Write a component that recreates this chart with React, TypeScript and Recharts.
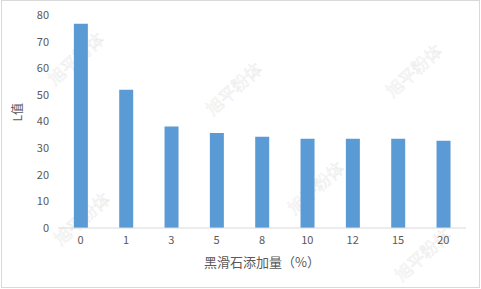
import { Bar, BarChart, XAxis, YAxis } from "recharts";

// talc loading (%) and measured L value
const loadings = ["0", "1", "3", "5", "8", "10", "12", "15", "20"];
const lValues = [76.7, 51.9, 38.1, 35.7, 34.3, 33.5, 33.5, 33.5, 32.8];
const yTicks = [0, 10, 20, 30, 40, 50, 60, 70, 80];

const watermarkText = "旭平粉体";
const watermarkSpots = [
  [75, 58],
  [81, 218],
  [233, 88],
  [413, 70],
  [315, 187],
  [422, 254],
];

const data = loadings.map((c, i) => ({ loading: c, value: lValues[i] }));

const font = "'Noto Sans CJK SC', 'Noto Sans', sans-serif";
const textColor = "#595959";

export default function App() {
  return (
    <div
      style={{
        position: "absolute",
        left: 0,
        top: 0,
        width: 481,
        height: 289,
        background: "#fff",
        fontFamily: font,
      }}
    >
      <svg
        width={481}
        height={289}
        style={{ position: "absolute", left: 0, top: 0 }}
      >
        {watermarkSpots.map(([x, y], i) => (
          <text
            key={i}
            x={x}
            y={y}
            textAnchor="middle"
            dominantBaseline="central"
            transform={`rotate(-42 ${x} ${y})`}
            fontSize={17}
            fontFamily={font}
            fill="#fdfdfd"
            stroke="#e6e6e6"
            strokeWidth={0.4}
          >
            {watermarkText}
          </text>
        ))}
      </svg>
      <div style={{ position: "absolute", left: 0, top: 0 }}>
        <BarChart
          width={481}
          height={289}
          data={data}
          margin={{ top: 15, right: 15, bottom: 0, left: 0 }}
          barCategoryGap="35%"
        >
          <XAxis
            dataKey="loading"
            height={61}
            tickLine={false}
            axisLine={{ stroke: "#d9d9d9" }}
            tick={{ fill: textColor, fontSize: 11, fontFamily: font }}
            tickSize={6}
            tickMargin={2}
            label={{
              value: "黑滑石添加量（%）",
              position: "insideBottom",
              offset: 22,
              fill: textColor,
              fontSize: 13,
              fontFamily: font,
            }}
          />
          <YAxis
            width={58}
            domain={[0, 80]}
            ticks={yTicks}
            axisLine={false}
            tickLine={false}
            tickSize={0}
            tickMargin={9}
            tick={{ fill: textColor, fontSize: 11, fontFamily: font }}
            label={{
              value: "L值",
              angle: -90,
              position: "insideLeft",
              offset: 18,
              fill: textColor,
              fontSize: 12,
              fontFamily: font,
            }}
          />
          <Bar dataKey="value" fill="#5b9bd5" isAnimationActive={false} />
        </BarChart>
      </div>
      <div
        style={{
          position: "absolute",
          left: 1,
          top: 0,
          width: 477,
          height: 286,
          border: "1px solid #d9d9d9",
          pointerEvents: "none",
        }}
      />
    </div>
  );
}
